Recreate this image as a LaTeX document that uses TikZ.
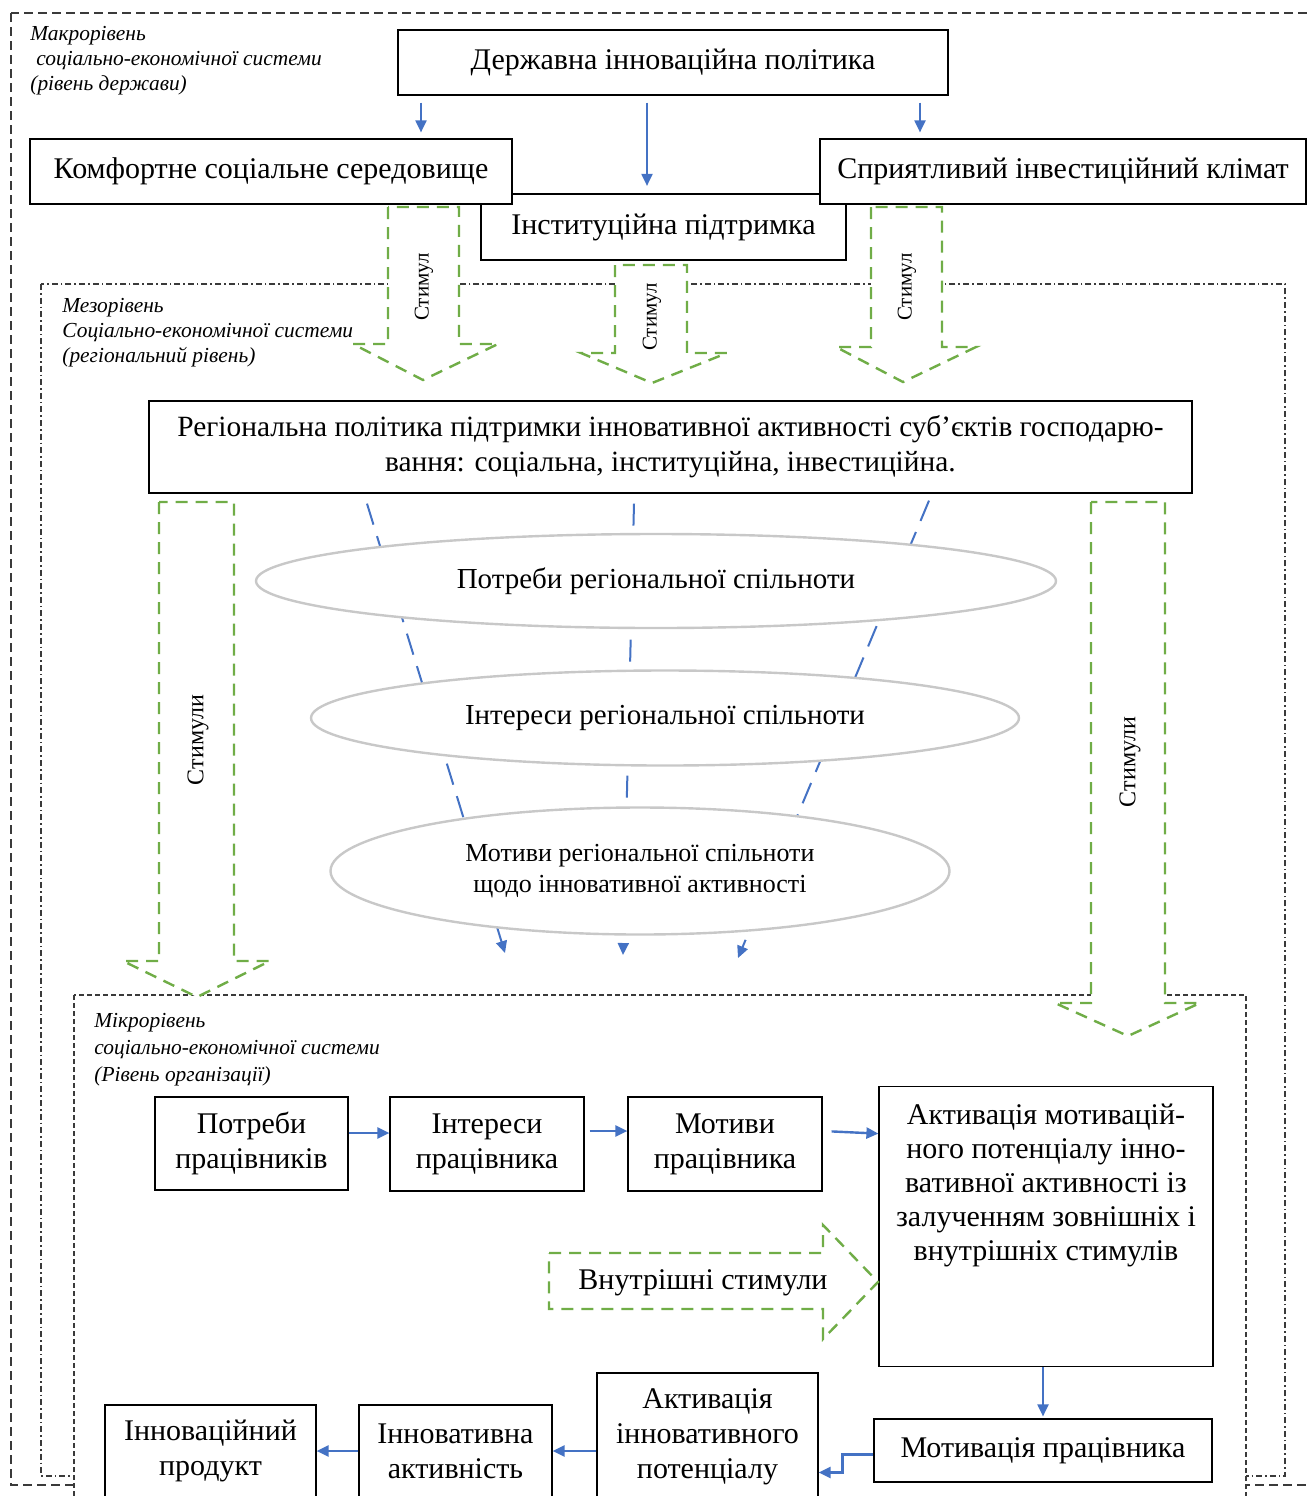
\documentclass[tikz,border=0pt]{standalone}
\usepackage{fontspec}
\setmainfont{Liberation Serif}
\usetikzlibrary{arrows.meta,shapes.geometric}
\definecolor{arrblue}{HTML}{4472C4}
\definecolor{stimgreen}{HTML}{70AD47}
\definecolor{ellgray}{HTML}{C8C8C8}
\definecolor{framegray}{HTML}{3A3A3A}

\begin{document}
\begin{tikzpicture}[x=0.5pt,y=-0.5pt,
    box/.style={draw,fill=white,line width=0.6pt,inner sep=0pt,align=center,font=\fontsize{15}{17.5}\selectfont},
    oval/.style={ellipse,draw=ellgray,line width=1.2pt,fill=white,inner sep=0pt,align=center,font=\fontsize{14.5}{17}\selectfont},
    flow/.style={draw=arrblue,line width=1pt,-{Triangle[length=6pt,width=5.5pt]}},
    funnel/.style={flow,dash pattern=on 11pt off 6pt},
    stim/.style={draw=stimgreen,fill=white,line width=1.2pt,dash pattern=on 6pt off 4pt},
    stimtext/.style={rotate=90,inner sep=0pt},
    level/.style={anchor=north west,inner sep=0pt,align=left,font=\fontsize{10.7}{12.5}\selectfont\itshape}]
    \useasboundingbox (0,0) rectangle (1307,1496);
    \clip (0,0) rectangle (1307,1496);

    % levels
    \draw[framegray,line width=0.6pt,dash pattern=on 4.5pt off 2.5pt] (11,13) rectangle (1315,1485);
    \draw[framegray,line width=0.6pt,dash pattern=on 3pt off 1.5pt on 0.8pt off 1.5pt] (41,284) rectangle (1285,1476);
    \draw[framegray,line width=0.6pt,dash pattern=on 2.5pt off 1.5pt,fill=white] (74,995) rectangle (1246,1520);

    \node[level] (macrolbl) at (30,26) {Макрорівень\\\hspace*{3pt}соціально-економічної системи\\(рівень держави)};
    \node[level] (mesolbl) at (62,298) {Мезорівень\\Соціально-економічної системи\\(регіональний рівень)};
    \node[level,font=\fontsize{10.7}{13.5}\selectfont\itshape] (microlbl) at (94,1013) {Мікрорівень\\соціально-економічної системи\\(Рівень організації)};

    % macro level
    \node[box,minimum width=182.5pt,minimum height=33pt] (inst) at (663.5,227) {Інституційна підтримка};
    \node[box,minimum width=275pt,minimum height=32.5pt] (gov) at (673,62.5) {Державна інноваційна політика};
    \node[box,minimum width=241pt,minimum height=32.5pt] (comf) at (271,171.5) {Комфортне соціальне середовище};
    \node[box,minimum width=243pt,minimum height=32.5pt] (clim) at (1063,171.5) {Сприятливий інвестиційний клімат};

    \coordinate (gl) at (421,0);
    \coordinate (gm) at (647,0);
    \coordinate (gr) at (920,0);
    \draw[flow,shorten <=3.5pt,shorten >=3pt] (gov.south -| gl) -- (comf.north -| gl);
    \draw[flow,shorten <=3.5pt,shorten >=3.75pt] (gov.south -| gm) -- (inst.north -| gm);
    \draw[flow,shorten <=3.5pt,shorten >=3pt] (gov.south -| gr) -- (clim.north -| gr);

    \draw[stim] (388,207) -- (388,344) -- (353,344) -- (423,380) -- (498,344) -- (459,344) -- (459,207) -- cycle;
    \draw[stim] (615,265) -- (615,353) -- (581,353) -- (652,383) -- (727,353) -- (687,353) -- (687,265) -- cycle;
    \draw[stim] (871,207) -- (871,347) -- (836,347) -- (903,382) -- (976,347) -- (942,347) -- (942,207) -- cycle;
    \node[stimtext,font=\fontsize{10.5}{12}\selectfont] (stim1) at (424,287) {Стимул};
    \node[stimtext,font=\fontsize{10.5}{12}\selectfont] (stim2) at (652,317) {Стимул};
    \node[stimtext,font=\fontsize{10.5}{12}\selectfont] (stim3) at (907,287) {Стимул};

    % meso level
    \node[box,minimum width=521.5pt,minimum height=46pt,font=\fontsize{14.7}{17.5}\selectfont] (reg) at (670.5,447) {Регіональна політика підтримки інновативної активності суб’єктів господарю-\\вання: соціальна, інституційна, інвестиційна.};

    \draw[stim] (159,502) -- (159,961) -- (123,961) -- (197,997) -- (270,961) -- (234,961) -- (234,502) -- cycle;
    \draw[stim] (1091,502) -- (1091,1003) -- (1055,1003) -- (1128,1036) -- (1200,1003) -- (1165,1003) -- (1165,502) -- cycle;
    \node[stimtext,font=\fontsize{12}{14}\selectfont] (stiml) at (198,740) {Стимули};
    \node[stimtext,font=\fontsize{12}{14}\selectfont] (stimr) at (1130,762) {Стимули};

    \coordinate (fl) at (505,953);
    \coordinate (fm) at (623,955);
    \coordinate (fr) at (738,958);
    \draw[funnel] ([xshift=-151.75pt,yshift=-5pt]reg.south) -- (fl);
    \draw[funnel] ([xshift=-18.25pt,yshift=-5pt]reg.south) -- (fm);
    \draw[funnel] ([xshift=129.25pt,yshift=-3.5pt]reg.south) -- (fr);

    \node[oval,minimum width=400pt,minimum height=47pt] (e1) at (656,581) {Потреби регіональної спільноти};
    \node[oval,minimum width=354pt,minimum height=47.5pt] (e2) at (665,718) {Інтереси регіональної спільноти};
    \node[oval,minimum width=309.5pt,minimum height=63.5pt,font=\fontsize{13}{15.5}\selectfont] (e3) at (640,871) {Мотиви регіональної спільноти\\щодо інновативної активності};

    % micro level
    \node[box,minimum width=96.5pt,minimum height=46.5pt] (potr) at (251.5,1143.5) {Потреби\\працівників};
    \node[box,minimum width=97pt,minimum height=47pt] (intr) at (487,1144) {Інтереси\\працівника};
    \node[box,minimum width=97pt,minimum height=47pt] (motv) at (725,1144) {Мотиви\\працівника};
    \node[box,minimum width=167pt,minimum height=140pt,anchor=north] (act) at (1046,1086) {};
    \node[anchor=north,inner sep=0pt,align=center,font=\fontsize{15}{17}\selectfont] (acttext) at (1046,1104) {Активація мотивацій-\\ного потенціалу інно-\\вативної активності із\\залученням зовнішніх і\\внутрішніх стимулів};

    \draw[flow,line width=1.2pt] ([yshift=5.25pt]potr.east) -- ([yshift=5.5pt]intr.west);
    \draw[flow,line width=1.2pt,shorten <=2.5pt] ([yshift=6.5pt]intr.east) -- ([yshift=6.5pt]motv.west);
    \draw[flow,line width=1.2pt,shorten <=4.5pt] ([yshift=6.5pt]motv.east) -- ([yshift=46.5pt]act.west);

    \draw[stim] (549,1253) -- (823,1253) -- (823,1225) -- (878,1282) -- (823,1339) -- (823,1309) -- (549,1309) -- cycle;
    \node[font=\fontsize{15}{17}\selectfont] (vstim) at (703,1283) {Внутрішні стимули};

    \node[box,minimum width=169pt,minimum height=31.5pt] (motp) at (1043,1450.5) {Мотивація працівника};
    \node[box,minimum width=110.5pt,minimum height=63.5pt] (actinn) at (707.5,1436.5) {Активація\\інновативного\\потенціалу};
    \node[box,minimum width=96.5pt,minimum height=46pt] (innact) at (455.5,1451) {Інновативна\\активність};
    \node[box,minimum width=105.5pt,minimum height=46pt] (prod) at (210.5,1451) {Інноваційний\\продукт};

    \draw[flow,shorten >=1pt] (act.south -| motp.north) -- (motp.north);
    \draw[flow,line width=1.2pt] ([yshift=-2pt]motp.west) -- ++(-15.5pt,0) |- ([yshift=-18pt]actinn.east);
    \draw[flow,line width=1.2pt] (actinn.west |- innact.east) -- (innact.east);
    \draw[flow,line width=1.2pt] (innact.west) -- (prod.east);
\end{tikzpicture}
\end{document}
